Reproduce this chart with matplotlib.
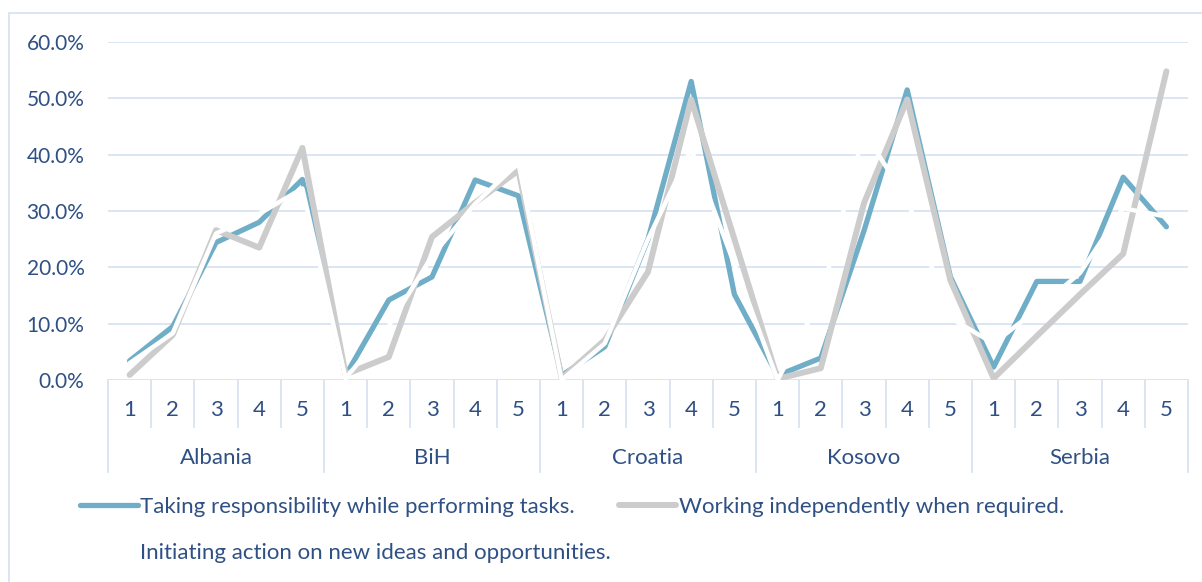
import matplotlib
matplotlib.use('Agg')
import matplotlib.pyplot as plt
from matplotlib.patches import Rectangle
from matplotlib.lines import Line2D

plt.rcParams['font.family'] = ['Lato', 'DejaVu Sans']

# Daten (Werte in %)
countries = ['Albania', 'BiH', 'Croatia', 'Kosovo', 'Serbia']
levels = ['1', '2', '3', '4', '5']

responsibility = [3.4, 9.5, 24.4, 28.0, 35.6,
                  0.8, 14.2, 18.3, 35.5, 32.7,
                  0.8, 5.9, 25.0, 53.0, 15.2,
                  0.8, 3.9, 26.5, 51.5, 18.3,
                  2.3, 17.5, 17.5, 36.0, 27.2]
independently = [0.9, 8.0, 26.6, 23.5, 41.2,
                 1.0, 4.1, 25.4, 31.5, 37.2,
                 0.3, 7.1, 19.2, 49.8, 25.0,
                 0.2, 2.1, 31.4, 49.8, 17.7,
                 0.3, 7.8, 15.2, 22.4, 54.8]
initiating = [3.0, 8.3, 26.0, 29.5, 34.0,
              0.3, 9.6, 22.0, 31.3, 38.5,
              0.0, 6.5, 25.0, 41.0, 20.5,
              0.0, 14.5, 44.0, 32.0, 11.0,
              6.5, 12.5, 19.0, 30.5, 29.0]

labels = ['Taking responsibility while performing tasks.',
          'Working independently when required.',
          'Initiating action on new ideas and opportunities.']

text_col = '#2f5084'
grid_col = '#d8e3f2'
blue = '#70aec8'
gray = '#cccccc'

W, H = 1202, 582
fig = plt.figure(figsize=(W / 100, H / 100), dpi=100)
ax = fig.add_axes([108 / W, 202 / H, 1080 / W, 338 / H])

x = list(range(len(responsibility)))
l1, = ax.plot(x, responsibility, color=blue, lw=3.8, solid_joinstyle='round',
              solid_capstyle='round', zorder=3)
l2, = ax.plot(x, independently, color=gray, lw=4.3, solid_joinstyle='round',
              solid_capstyle='round', zorder=4)
l3, = ax.plot(x, initiating, color='white', lw=3.2, solid_joinstyle='round',
              solid_capstyle='round', zorder=5)

ax.set_xlim(-0.5, len(x) - 0.5)
ax.set_ylim(0, 60)
ax.set_yticks(range(0, 61, 10))
ax.set_yticklabels([f'{v:.1f}%' for v in range(0, 61, 10)])
ax.tick_params(axis='y', length=0, pad=17, labelsize=15, labelcolor=text_col)
ax.set_xticks([])
ax.yaxis.grid(True, color=grid_col, lw=1.3, zorder=0)
ax.set_axisbelow(True)
for s in ax.spines.values():
    s.set_visible(False)

# zweistufige Kategorieachse
tr = ax.get_xaxis_transform()
ph = 338.0
n = len(levels)
for i in range(len(x) + 1):
    b = i - 0.5
    low = -92 / ph if i % n == 0 else -47 / ph
    ax.add_line(Line2D([b, b], [0, low], transform=tr, color=grid_col, lw=1.3,
                       clip_on=False))
for i in range(len(x)):
    ax.text(i, -30 / ph, levels[i % n], transform=tr, ha='center', va='center',
            fontsize=16, color=text_col)
for j, c in enumerate(countries):
    ax.text(j * n + (n - 1) / 2, -78 / ph, c, transform=tr, ha='center',
            va='center', fontsize=16, color=text_col)

# Legende
fig.legend([l1, l3, l2], [labels[0], labels[2], labels[1]], ncol=2,
           loc='upper left', bbox_to_anchor=(80 / W, 1 - 497 / H),
           frameon=False, fontsize=16, labelcolor=text_col,
           handlelength=2.6, handletextpad=0.1, columnspacing=0.35,
           labelspacing=1.15, borderpad=0, borderaxespad=0)

# Rahmen
fig.add_artist(Rectangle((8.5 / W, -0.1), 1.2, 1 - 13 / H + 0.1,
                         transform=fig.transFigure, fill=False,
                         ec=grid_col, lw=1.3))

plt.savefig('out.png', dpi=100)
